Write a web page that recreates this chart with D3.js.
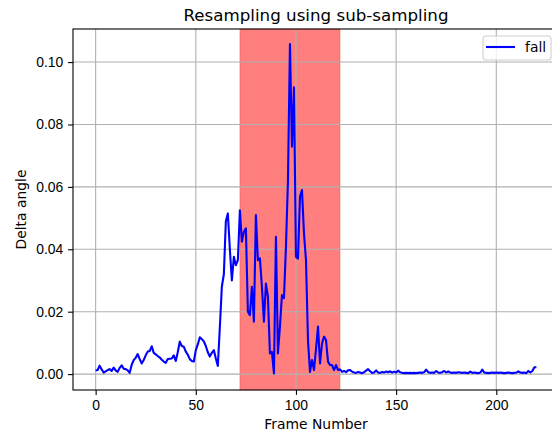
<!DOCTYPE html>
<html>
<head>
    <meta charset="utf-8">
    <script src="https://d3js.org/d3.v7.min.js"></script>
    <style>
        body { margin: 0; background: white; }
        svg { font-family: "DejaVu Sans", sans-serif; }
        .tick text { font-size: 13.9px; fill: #000; }
    </style>
</head>
<body>
    <div id="chart"></div>
    <script>
        // Delta angle per frame
        const frames = d3.range(0, 221);
        const delta = [
            0.0012, 0.0013, 0.0027, 0.0015, 0.0005, 0.0009, 0.0013, 0.0016, 0.0010, 0.0021,
            0.0012, 0.0007, 0.0020, 0.0028, 0.0017, 0.0016, 0.0012, 0.0004, 0.0030, 0.0045,
            0.0052, 0.0064, 0.0048, 0.0034, 0.0045, 0.0060, 0.0072, 0.0074, 0.0089, 0.0068,
            0.0063, 0.0058, 0.0053, 0.0046, 0.0040, 0.0036, 0.0048, 0.0049, 0.0050, 0.0060,
            0.0042, 0.0070, 0.0104, 0.0090, 0.0088, 0.0072, 0.0062, 0.0048, 0.0042, 0.0040,
            0.0077, 0.0095, 0.0118, 0.0112, 0.0105, 0.0090, 0.0070, 0.0056, 0.0068, 0.0077,
            0.0050, 0.0026, 0.0150, 0.0280, 0.0320, 0.0490, 0.0515, 0.0400, 0.0300, 0.0376,
            0.0349, 0.0365, 0.0525, 0.0424, 0.0456, 0.0467, 0.0200, 0.0189, 0.0280, 0.0168,
            0.0510, 0.0365, 0.0371, 0.0280, 0.0168, 0.0290, 0.0248, 0.0066, 0.0071, 0.0002,
            0.0440, 0.0066, 0.0152, 0.0253, 0.0243, 0.0408, 0.0620, 0.1058, 0.0729, 0.0919,
            0.0376, 0.0370, 0.0568, 0.0590, 0.0451, 0.0365, 0.0109, 0.0007, 0.0045, 0.0013,
            0.0080, 0.0152, 0.0034, 0.0098, 0.0120, 0.0109, 0.0040, 0.0029, 0.0029, 0.0013,
            0.0029, 0.0013, 0.0015, 0.0007, 0.0010, 0.0006, 0.0012, 0.0013, 0.0008, 0.0005,
            0.0004, 0.0007, 0.0005, 0.0003, 0.0006, 0.0011, 0.0016, 0.0009, 0.0004, 0.0005,
            0.0012, 0.0005, 0.0004, 0.0007, 0.0005, 0.0008, 0.0006, 0.0009, 0.0005, 0.0008,
            0.0005, 0.0011, 0.0006, 0.0004, 0.0003, 0.0004, 0.0003, 0.0004, 0.0003, 0.0004,
            0.0003, 0.0004, 0.0005, 0.0004, 0.0006, 0.0014, 0.0006, 0.0004, 0.0005, 0.0004,
            0.0010, 0.0005, 0.0004, 0.0006, 0.0010, 0.0005, 0.0009, 0.0005, 0.0004, 0.0005,
            0.0004, 0.0006, 0.0005, 0.0004, 0.0005, 0.0004, 0.0003, 0.0008, 0.0004, 0.0005,
            0.0004, 0.0003, 0.0005, 0.0014, 0.0005, 0.0004, 0.0003, 0.0004, 0.0005, 0.0004,
            0.0005, 0.0004, 0.0005, 0.0004, 0.0003, 0.0004, 0.0005, 0.0004, 0.0003, 0.0004,
            0.0005, 0.0009, 0.0005, 0.0004, 0.0005, 0.0003, 0.0010, 0.0005, 0.0010, 0.0022,
            0.0022
        ].slice(0, 221);
        const fallSpan = [72, 122];
        const xTicks = [0, 50, 100, 150, 200];
        const yTicks = [0.00, 0.02, 0.04, 0.06, 0.08, 0.10];

        const width = 552, height = 436;
        const margin = { top: 29, right: -7, bottom: 46, left: 73 };
        const innerW = width - margin.left - margin.right,
            innerH = height - margin.top - margin.bottom;

        const svg = d3.select("#chart")
            .append("svg")
            .attr("width", width)
            .attr("height", height);

        const x = d3.scaleLinear().domain([-11.3, 231.3]).range([0, innerW]);
        const y = d3.scaleLinear().domain([-0.0051, 0.1106]).range([innerH, 0]);

        const g = svg.append("g")
            .attr("transform", `translate(${margin.left},${margin.top})`);

        // shaded fall region
        g.append("rect")
            .attr("x", x(fallSpan[0]))
            .attr("y", 0)
            .attr("width", x(fallSpan[1]) - x(fallSpan[0]))
            .attr("height", innerH)
            .attr("fill", "#ff0000")
            .attr("fill-opacity", 0.5)
            .attr("stroke", "#ff0000")
            .attr("stroke-opacity", 0.25)
            .attr("stroke-width", 1);

        // grid
        g.append("g").selectAll("line").data(xTicks).join("line")
            .attr("x1", d => x(d)).attr("x2", d => x(d))
            .attr("y1", 0).attr("y2", innerH)
            .attr("stroke", "#b0b0b0").attr("stroke-width", 1.1);
        g.append("g").selectAll("line").data(yTicks).join("line")
            .attr("x1", 0).attr("x2", innerW)
            .attr("y1", d => y(d)).attr("y2", d => y(d))
            .attr("stroke", "#b0b0b0").attr("stroke-width", 1.1);

        // the line
        const points = frames.map((f, i) => ({ x: f, y: delta[i] }));
        g.append("path")
            .datum(points)
            .attr("fill", "none")
            .attr("stroke", "#0000ff")
            .attr("stroke-width", 2.1)
            .attr("stroke-linejoin", "round")
            .attr("d", d3.line().x(d => x(d.x)).y(d => y(d.y)));

        // axes
        const xAxis = g.append("g")
            .attr("transform", `translate(0,${innerH})`)
            .call(d3.axisBottom(x).tickValues(xTicks).tickFormat(d3.format("d"))
                .tickSizeInner(4.9).tickSizeOuter(0).tickPadding(4.9));
        const yAxis = g.append("g")
            .call(d3.axisLeft(y).tickValues(yTicks).tickFormat(d3.format(".2f"))
                .tickSizeInner(4.9).tickSizeOuter(0).tickPadding(4.9));
        [xAxis, yAxis].forEach(a => {
            a.select(".domain").remove();
            a.selectAll(".tick line").attr("stroke", "#000").attr("stroke-width", 1.1);
        });

        // spines
        g.append("rect")
            .attr("width", innerW).attr("height", innerH)
            .attr("fill", "none").attr("stroke", "#000").attr("stroke-width", 1.1);

        // legend
        const leg = svg.append("g").attr("transform", "translate(483,36)");
        leg.append("rect")
            .attr("width", 68).attr("height", 24).attr("rx", 3)
            .attr("fill", "white").attr("fill-opacity", 0.8)
            .attr("stroke", "#d0d0d0").attr("stroke-width", 1.1);
        leg.append("line")
            .attr("x1", 3).attr("x2", 32).attr("y1", 11).attr("y2", 11)
            .attr("stroke", "#0000ff").attr("stroke-width", 2.1);
        leg.append("text")
            .attr("x", 42).attr("y", 16)
            .attr("font-size", 13.9)
            .text("fall");

        // titles
        svg.append("text")
            .attr("x", margin.left + innerW / 2).attr("y", 21)
            .attr("text-anchor", "middle").attr("font-size", 16.7)
            .text("Resampling using sub-sampling");
        svg.append("text")
            .attr("x", margin.left + innerW / 2).attr("y", 429)
            .attr("text-anchor", "middle").attr("font-size", 13.9)
            .text("Frame Number");
        svg.append("text")
            .attr("transform", `translate(26,${margin.top + innerH / 2}) rotate(-90)`)
            .attr("text-anchor", "middle").attr("font-size", 13.9)
            .text("Delta angle");
    </script>
</body>
</html>
